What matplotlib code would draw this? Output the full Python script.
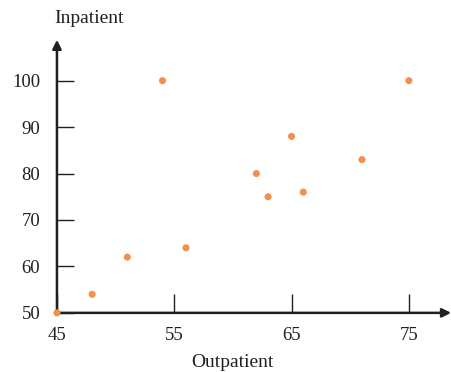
import matplotlib
matplotlib.use("Agg")
import matplotlib.pyplot as plt

# values
outpatient = [45, 48, 51, 56, 54, 62, 63, 65, 66, 71, 75]
inpatient = [50, 54, 62, 64, 100, 80, 75, 88, 76, 83, 100]
x_ticks = [45, 55, 65, 75]
y_ticks = [50, 60, 70, 80, 90, 100]

plt.rcParams['font.family'] = ['Liberation Serif', 'DejaVu Serif']
ink = '#231f20'
dot = '#f4904f'

fig = plt.figure(figsize=(4.52, 3.72), dpi=100)
ax = fig.add_axes([0.126, 0.159, 0.872, 0.734])

x0, x1 = 45, 78.6
y0, y1 = 50, 108.8
ax.set_xlim(x0, x1)
ax.set_ylim(y0, y1)

for s in ['top', 'right', 'left', 'bottom']:
    ax.spines[s].set_visible(False)

# axes with arrowheads
ax.annotate('', xy=(x1, y0), xytext=(x0, y0),
            arrowprops=dict(arrowstyle='-|>', color=ink, lw=1.8,
                            mutation_scale=13, shrinkA=0, shrinkB=0),
            annotation_clip=False)
ax.annotate('', xy=(x0, y1), xytext=(x0, y0),
            arrowprops=dict(arrowstyle='-|>', color=ink, lw=1.8,
                            mutation_scale=13, shrinkA=0, shrinkB=0),
            annotation_clip=False)

ax.set_xticks(x_ticks)
ax.set_yticks(y_ticks)
ax.tick_params(axis='x', direction='in', length=14, width=1.0, color=ink,
               labelsize=13.5, labelcolor=ink, pad=10)
ax.tick_params(axis='y', direction='in', length=12.5, width=1.0, color=ink,
               labelsize=13.5, labelcolor=ink, pad=12)

ax.scatter(outpatient, inpatient, s=26, color=dot, edgecolors='none',
           zorder=5, clip_on=False)

fig.text(0.197, 0.951, 'Inpatient', ha='center', va='center',
         fontsize=14, color=ink)
fig.text(0.514, 0.026, 'Outpatient', ha='center', va='center',
         fontsize=14, color=ink)

fig.savefig('out.png', dpi=100)
